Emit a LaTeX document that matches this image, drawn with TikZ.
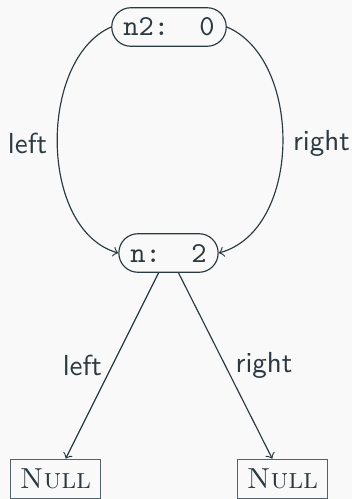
\documentclass[tikz,border=0pt]{standalone}
\usepackage{xcolor}
\definecolor{ink}{HTML}{2B3940}
\definecolor{bg}{HTML}{F9F9F9}
\tikzset{
  cell/.style={draw=ink, text=ink, font=\ttfamily, rounded corners=6.6pt, inner xsep=4pt, minimum height=13.3pt, line width=0.4pt},
  nullbox/.style={draw=ink!80, text=ink, inner sep=3.33pt, line width=0.4pt},
  lab/.style={font=\sffamily, text=ink},
  conn/.style={draw=ink, ->, line width=0.4pt}
}
\begin{document}
\begin{tikzpicture}[x=0.345pt,y=-0.345pt]
\fill[bg] (0,0) rectangle (352,499);
\useasboundingbox (0,0) rectangle (352,499);
\node[cell] (n2) at (169,27) {n2:\ \ 0};
\node[cell] (n) at (168.5,253) {n:\ \ 2};
\node[nullbox] (null1) at (55.5,479) {\textsc{Null}};
\node[nullbox] (null2) at (282.5,479) {\textsc{Null}};
\draw[conn] (n2.west) .. controls +(-73,32) and +(-80,-23) .. node[lab,left] {left} (n.west);
\draw[conn] (n2.east) .. controls +(76,32) and +(84,-23) .. node[lab,right] {right} (n.east);
\draw[conn] (n) -- node[lab,left] {left} (null1);
\draw[conn] (n) -- node[lab,right] {right} (null2);
\end{tikzpicture}
\end{document}
